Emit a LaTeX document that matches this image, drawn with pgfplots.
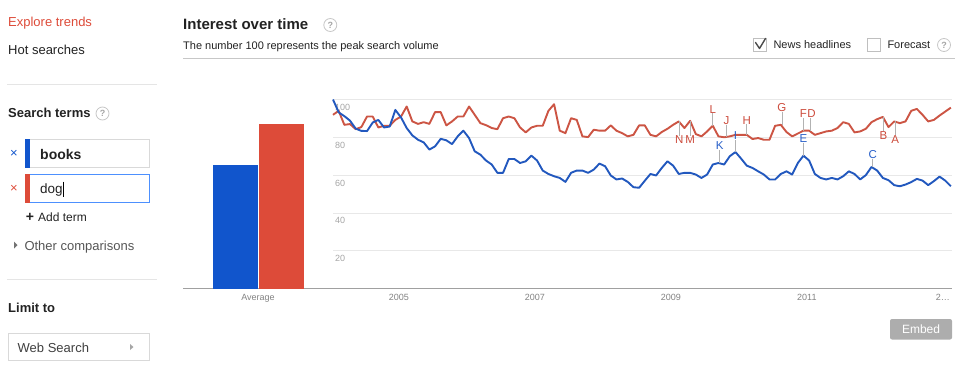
\documentclass[border=0pt]{standalone}
\usepackage{pgfplots}
\pgfplotsset{compat=1.18}
\usepackage{pgfplotstable}
\usepackage{fontspec}
\setmainfont{Liberation Sans}
\definecolor{gtred}{RGB}{221,75,57}
\definecolor{gtblue}{RGB}{17,85,204}
\definecolor{lineblue}{RGB}{34,88,190}
\definecolor{linered}{RGB}{204,85,68}
\definecolor{letred}{RGB}{204,75,60}
\definecolor{letblue}{RGB}{40,95,200}
\definecolor{hrgray}{RGB}{229,229,229}
\definecolor{txtdark}{RGB}{34,34,34}
\definecolor{txtgray}{RGB}{85,85,85}
\definecolor{ylab}{RGB}{165,165,165}
\definecolor{xlab}{RGB}{130,130,130}
\definecolor{gridc}{RGB}{232,232,232}
\definecolor{basec}{RGB}{160,160,160}
\definecolor{focusblue}{RGB}{77,144,254}
\definecolor{boxborder}{RGB}{217,217,217}
\newcommand{\fs}[1]{\fontsize{#1}{#1}\selectfont}
\newcommand{\helpicon}[2]{%
  \draw[draw=black!22, line width=0.8pt, fill=white] (#1,#2) circle (6.5pt);
  \node[text=black!35, font=\fs{9}\bfseries, inner sep=0] at (#1,#2) {?};}
\tikzset{
  leader/.style={black!30, line width=0.8pt},
  letr/.style={text=letred, font=\fs{11.5}, inner sep=0pt},
  letb/.style={text=letblue, font=\fs{11.5}, inner sep=0pt},
}

\pgfplotstableread{
m v
0 100
1 93.2
2 91.2
3 88.8
4 84.6
5 83.4
6 83.3
7 87.8
8 89.2
9 85.2
10 85.7
11 94.5
12 90.5
13 84.9
14 81.0
15 78.7
16 77.3
17 73.5
18 75.2
19 79.2
20 78.4
21 76.4
22 80.5
23 83.5
24 79.6
25 72.6
26 70.8
27 67.7
28 65.6
29 61.2
30 61.2
31 68.5
32 68.5
33 66.4
34 67.3
35 70.3
36 67.7
37 62.4
38 60.6
39 59.4
40 58.5
41 56.4
42 61.2
43 62.4
44 62.4
45 61.2
46 62.9
47 66.1
48 64.7
49 59.8
50 57.7
51 58.2
52 56.4
53 53.6
54 53.3
55 57.0
56 60.6
57 59.8
58 63.8
59 67.3
60 65.0
61 60.6
62 61.2
63 61.2
64 60.3
65 58.5
66 60.3
67 65.6
68 66.4
69 65.6
70 70.0
71 72.2
72 68.7
73 65.0
74 63.8
75 62.0
76 60.3
77 57.7
78 57.7
79 60.6
80 62.0
81 60.3
82 66.4
83 70.3
84 67.7
85 60.6
86 58.5
87 57.7
88 58.5
89 57.7
90 59.4
91 62.0
92 60.6
93 57.7
94 60.0
95 64.3
96 62.4
97 58.5
98 57.3
99 54.7
100 54.1
101 55.0
102 56.3
103 58.0
104 57.1
105 54.7
106 56.8
107 59.2
108 57.1
109 54.1
}\booksdata

\pgfplotstableread{
m v
0 91.9
1 94.0
2 86.6
3 87.0
4 84.3
5 85.4
6 91.0
7 91.0
8 85.2
9 86.1
10 86.1
11 89.2
12 91.0
13 96.3
14 88.4
15 87.1
16 88.0
17 87.1
18 93.3
19 93.3
20 86.3
21 88.4
22 91.0
23 91.0
24 96.3
25 91.9
26 87.5
27 86.4
28 84.9
29 84.3
30 90.1
31 91.0
32 90.1
33 85.2
34 82.6
35 85.2
36 86.1
37 86.1
38 94.0
39 97.5
40 83.5
41 82.2
42 90.1
43 89.2
44 80.5
45 80.1
46 84.0
47 83.5
48 83.5
49 86.3
50 83.5
51 82.2
52 80.5
53 81.3
54 86.3
55 86.3
56 81.3
57 80.5
58 82.8
59 84.5
60 86.6
61 88.4
62 84.9
63 88.7
64 81.7
65 80.5
66 83.1
67 86.1
68 80.5
69 80.0
70 80.5
71 81.3
72 81.3
73 81.3
74 79.1
75 79.6
76 78.7
77 78.7
78 86.1
79 86.6
80 82.8
81 80.5
82 82.0
83 83.5
84 83.5
85 81.3
86 82.2
87 83.1
88 83.5
89 84.9
90 88.0
91 87.1
92 82.6
93 83.1
94 84.5
95 88.0
96 89.6
97 90.8
98 85.4
99 88.4
100 87.5
101 88.4
102 94.0
103 95.0
104 91.9
105 88.4
106 89.2
107 91.5
108 93.6
109 95.7
}\dogdata

\begin{document}
\begin{tikzpicture}
\useasboundingbox (0pt,0pt) rectangle (973pt,-364pt);
\begin{scope}[x=1pt,y=-1pt]
  % ---------- left panel ----------
  \node[anchor=base west, inner sep=0, text=gtred, font=\fs{13}] at (8,26) {Explore trends};
  \node[anchor=base west, inner sep=0, text=txtdark, font=\fs{13}] at (8,54) {Hot searches};
  \draw[hrgray, line width=1pt] (7,84.5) -- (157,84.5);
  \node[anchor=base west, inner sep=0, text=txtdark, font=\fs{13}\bfseries] at (8,117) {Search terms};
  \helpicon{102.5}{113.5}
  % books
  \node[text=gtblue, font=\fs{13}, inner sep=0] at (14,153.5) {×};
  \draw[boxborder, fill=white, line width=1pt] (25.5,139.5) rectangle (149,167.5);
  \fill[gtblue] (25,139) rectangle (30,168);
  \node[anchor=base west, inner sep=0, text=txtdark, font=\fs{14}\bfseries] at (40,159) {books};
  % dog
  \node[text=gtred, font=\fs{13}, inner sep=0] at (14,189) {×};
  \draw[focusblue, fill=white, line width=1pt] (25.5,174.5) rectangle (149,202.5);
  \fill[gtred] (25,174) rectangle (30,203);
  \node[anchor=base west, inner sep=0, text=txtdark, font=\fs{13.5}] at (40,193.5) {dog};
  \draw[black, line width=0.7pt] (63,181.5) -- (63,197);
  % add term
  \node[text=txtdark, font=\fs{14}\bfseries, inner sep=0] at (30,217) {+};
  \node[anchor=base west, inner sep=0, text=txtdark, font=\fs{12}] at (38,221.7) {Add term};
  % other comparisons
  \fill[black!55] (14,241.5) -- (17.5,245) -- (14,248.5) -- cycle;
  \node[anchor=base west, inner sep=0, text=txtgray, font=\fs{13}] at (24.3,250) {Other comparisons};
  \draw[hrgray, line width=1pt] (7,279.5) -- (157,279.5);
  \node[anchor=base west, inner sep=0, text=txtdark, font=\fs{13}\bfseries] at (8,312.3) {Limit to};
  \draw[boxborder, fill=white, line width=1pt] (8.5,333.5) rectangle (149,360.5);
  \node[anchor=base west, inner sep=0, text=black!75, font=\fs{13}] at (17.5,352.5) {Web Search};
  \fill[black!35] (130,344) -- (133.5,347) -- (130,350) -- cycle;
  % ---------- right header ----------
  \node[anchor=base west, inner sep=0, text=txtdark, font=\fs{15}\bfseries] at (183,29.3) {Interest over time};
  \helpicon{330.3}{25}
  \node[anchor=base west, inner sep=0, text=txtdark, font=\fs{11}] at (183,49.3) {The number 100 represents the peak search volume};
  \draw[black!22, line width=1pt] (183,58) -- (955,58);
  % news headlines checkbox
  \draw[black!25, fill=white, line width=0.8pt] (753.5,38.5) rectangle (766.5,51.5);
  \draw[black!70, line width=1.4pt, line cap=round, line join=round] (755.5,42.5) -- (759.5,48.5) -- (765.5,38.5);
  \node[anchor=base west, inner sep=0, text=txtdark, font=\fs{11}] at (773.3,48.5) {News headlines};
  \draw[black!25, fill=white, line width=0.8pt] (867.5,38.5) rectangle (880.5,51.5);
  \node[anchor=base west, inner sep=0, text=txtdark, font=\fs{11}] at (887.3,48.5) {Forecast};
  \helpicon{944}{45}
  % baseline
  \draw[basec, line width=1pt] (183,288.5) -- (952,288.5);
  % embed button
  \fill[black!32, rounded corners=2pt] (890,319) rectangle (952,339.5);
  \node[text=white, font=\fs{12}, inner sep=0] at (921,329.3) {Embed};
\end{scope}

% ---------- average bars ----------
\begin{axis}[
  at={(183pt,-288.5pt)}, anchor=south west,
  scale only axis, width=150pt, height=189pt,
  xmin=-1, xmax=1, ymin=0, ymax=100,
  axis line style={draw=none},
  ybar=1pt, bar width=45pt,
  xtick={0}, xticklabels={Average}, ytick=\empty,
  major tick length=0pt,
  xticklabel style={font=\fs{9}, text=xlab, yshift=-2.5pt},
  clip=false,
]
\addplot[fill=gtblue, draw=none] coordinates {(0,65.3)};
\addplot[fill=gtred, draw=none] coordinates {(0,87.2)};
\end{axis}

% ---------- interest over time ----------
\begin{axis}[
  at={(333pt,-288.5pt)}, anchor=south west,
  scale only axis, width=619pt, height=189pt,
  xmin=0, xmax=109.2, ymin=0, ymax=100,
  axis line style={draw=none},
  ymajorgrids, grid style={gridc, line width=0.8pt},
  ytick={20,40,60,80,100},
  xtick={11.6,35.6,59.6,83.6,107.6},
  xticklabels={2005,2007,2009,2011,{2\ldots}},
  major tick length=0pt,
  /pgf/number format/assume math mode=true,
  yticklabel style={anchor=north west, inner sep=0pt, xshift=2pt, yshift=-4.5pt, font=\fs{9}, text=ylab},
  xticklabel style={font=\fs{9}, text=xlab, yshift=-2.5pt},
  clip=false,
]
\addplot[linered, line width=1.9pt, line join=round] table[x=m, y=v] {\dogdata};
\addplot[lineblue, line width=1.9pt, line join=round] table[x=m, y=v] {\booksdata};
% news annotations (red, above)
\draw[leader] (axis cs:67,86.1) -- (axis cs:67,92.7);
\node[letr, anchor=south] at (axis cs:67,92.7) {L};
\draw[leader] (axis cs:69.4,80.0) -- (axis cs:69.4,86.5);
\node[letr, anchor=south] at (axis cs:69.4,86.5) {J};
\draw[leader] (axis cs:73,81.3) -- (axis cs:73,86.9);
\node[letr, anchor=south] at (axis cs:73,86.9) {H};
\draw[leader] (axis cs:79.2,86.6) -- (axis cs:79.2,93.4);
\node[letr, anchor=south] at (axis cs:79.2,93.4) {G};
\draw[leader] (axis cs:83,83.5) -- (axis cs:83,90.2);
\node[letr, anchor=south] at (axis cs:83.0,90.2) {F};
\draw[leader] (axis cs:84.3,83.5) -- (axis cs:84.3,90.2);
\node[letr, anchor=south] at (axis cs:84.4,90.2) {D};
% red, below
\draw[leader] (axis cs:61.1,88.4) -- (axis cs:61.1,80.8);
\node[letr, anchor=north] at (axis cs:61.1,80.8) {N};
\draw[leader] (axis cs:63,88.7) -- (axis cs:63,80.8);
\node[letr, anchor=north] at (axis cs:63,80.8) {M};
\draw[leader] (axis cs:97.1,90.8) -- (axis cs:97.1,83.3);
\node[letr, anchor=north] at (axis cs:97.1,83.3) {B};
\draw[leader] (axis cs:99.2,88.4) -- (axis cs:99.2,81.2);
\node[letr, anchor=north] at (axis cs:99.2,81.2) {A};
% blue, above
\draw[leader] (axis cs:68.2,66.4) -- (axis cs:68.2,73.3);
\node[letb, anchor=south] at (axis cs:68.2,73.3) {K};
\draw[leader] (axis cs:71,72.2) -- (axis cs:71,78.6);
\node[letb, anchor=south] at (axis cs:71,78.6) {I};
\draw[leader] (axis cs:83,70.3) -- (axis cs:83,77.0);
\node[letb, anchor=south] at (axis cs:83,77.0) {E};
\draw[leader] (axis cs:95.2,64.3) -- (axis cs:95.2,68.5);
\node[letb, anchor=south] at (axis cs:95.2,68.5) {C};
\end{axis}
\end{tikzpicture}
\end{document}
